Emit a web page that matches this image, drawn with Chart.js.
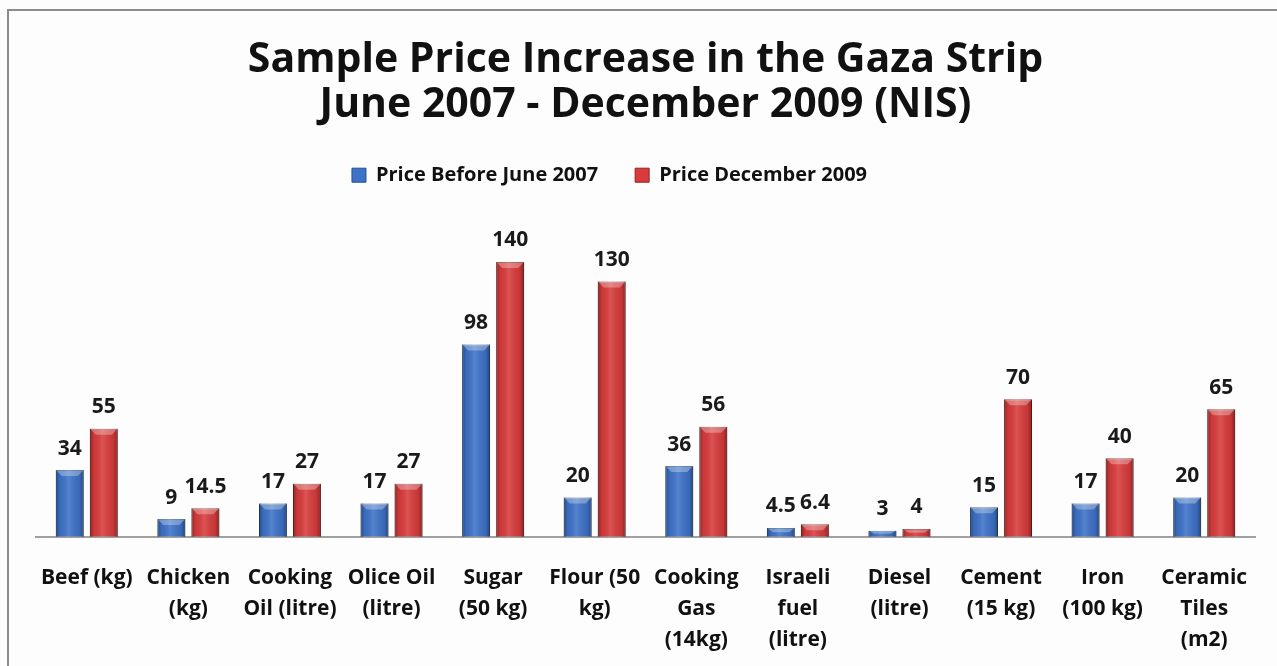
<!DOCTYPE html>
<html>
<head>
<meta charset="utf-8">
<script src="https://cdn.jsdelivr.net/npm/chart.js@4.4.0/dist/chart.umd.min.js"></script>
<style>
  html, body { margin: 0; padding: 0; background: #fff; }
  #wrap { position: relative; width: 1277px; height: 666px; background: #fdfdfd; }
  #frame { position: absolute; left: 7px; top: 9px; right: 0; bottom: 0;
           border-left: 2px solid #8c8c8c; border-top: 2px solid #8c8c8c; pointer-events: none; }
</style>
</head>
<body>
<div id="wrap">
  <canvas id="chart" width="1277" height="666"></canvas>
  <div id="frame"></div>
</div>
<script>
// chart data
const categories = [
  ['Beef (kg)'], ['Chicken', '(kg)'], ['Cooking', 'Oil (litre)'], ['Olice Oil', '(litre)'],
  ['Sugar', '(50 kg)'], ['Flour (50', 'kg)'], ['Cooking', 'Gas', '(14kg)'], ['Israeli', 'fuel', '(litre)'],
  ['Diesel', '(litre)'], ['Cement', '(15 kg)'], ['Iron', '(100 kg)'], ['Ceramic', 'Tiles', '(m2)']
];
const seriesNames = ['Price Before June 2007', 'Price December 2009'];
const priceBefore = [34, 9, 17, 17, 98, 20, 36, 4.5, 3, 15, 17, 20];
const priceDec2009 = [55, 14.5, 27, 27, 140, 130, 56, 6.4, 4, 70, 40, 65];

const FONT = '"Open Sans", Lato, sans-serif';

// the legend sits a bit left of centre in the original
const legendShift = {
  id: 'legendShift',
  afterLayout(chart) {
    chart.legend.left -= 36;
    chart.legend.right -= 36;
  }
};

// shading over each bar, to get the glossy cylinder look
const barShade = {
  id: 'barShade',
  afterDatasetsDraw(chart) {
    const ctx = chart.ctx;
    chart.data.datasets.forEach((ds, i) => {
      chart.getDatasetMeta(i).data.forEach(bar => {
        const p = bar.getProps(['x', 'y', 'base', 'width'], true);
        const l = p.x - p.width / 2, r = p.x + p.width / 2;
        const g = ctx.createLinearGradient(l, 0, r, 0);
        g.addColorStop(0, 'rgba(0,0,0,0.35)');
        g.addColorStop(0.15, 'rgba(0,0,0,0.05)');
        g.addColorStop(0.45, 'rgba(255,255,255,0.12)');
        g.addColorStop(0.85, 'rgba(0,0,0,0.08)');
        g.addColorStop(1, 'rgba(0,0,0,0.4)');
        ctx.save();
        ctx.fillStyle = g;
        ctx.fillRect(l, p.y, p.width, p.base - p.y);
        // light bevel on top
        const h = Math.min(6, (p.base - p.y) / 2);
        ctx.fillStyle = 'rgba(255,255,255,0.3)';
        ctx.beginPath();
        ctx.moveTo(l, p.y);
        ctx.lineTo(r, p.y);
        ctx.lineTo(r - 6, p.y + h);
        ctx.lineTo(l + 6, p.y + h);
        ctx.closePath();
        ctx.fill();
        ctx.restore();
      });
    });
  }
};

// value labels above the bars
const valueLabels = {
  id: 'valueLabels',
  afterDatasetsDraw(chart) {
    const ctx = chart.ctx;
    ctx.save();
    ctx.font = 'bold 21px ' + FONT;
    ctx.fillStyle = '#1a1a1a';
    ctx.textAlign = 'center';
    ctx.textBaseline = 'bottom';
    chart.data.datasets.forEach((ds, i) => {
      chart.getDatasetMeta(i).data.forEach((bar, j) => {
        ctx.fillText(String(ds.data[j]), bar.x, bar.y - 11);
      });
    });
    ctx.restore();
  }
};

new Chart(document.getElementById('chart'), {
  type: 'bar',
  data: {
    labels: categories,
    datasets: [
      { label: seriesNames[0], data: priceBefore, backgroundColor: '#3d72c8', borderColor: '#24508f', borderWidth: 1,
        categoryPercentage: 0.67, barPercentage: 0.82 },
      { label: seriesNames[1], data: priceDec2009, backgroundColor: '#d83b3b', borderColor: '#952020', borderWidth: 1,
        categoryPercentage: 0.67, barPercentage: 0.82 }
    ]
  },
  options: {
    responsive: false,
    animation: false,
    layout: { padding: { left: 36, right: 22, top: 10, bottom: -8 } },
    plugins: {
      title: {
        display: true,
        text: ['Sample Price Increase in the Gaza Strip', 'June 2007 - December 2009 (NIS)'],
        color: '#111',
        font: { family: FONT, size: 41, weight: 'bold', lineHeight: 1.1 },
        padding: { top: 28, bottom: 0 }
      },
      legend: {
        display: true,
        labels: {
          color: '#111',
          font: { family: FONT, size: 20, weight: 'bold' },
          boxWidth: 14, boxHeight: 14, padding: 37
        }
      },
      tooltip: { enabled: false }
    },
    scales: {
      x: {
        grid: { display: false },
        border: { display: true, color: '#a0a0a0', width: 2 },
        ticks: {
          color: '#111', autoSkip: false, maxRotation: 0, padding: 18,
          font: { family: FONT, size: 21, weight: 'bold', lineHeight: 1.48 }
        }
      },
      y: { display: false, min: 0, max: 174 }
    }
  },
  plugins: [legendShift, barShade, valueLabels]
});
</script>
</body>
</html>
